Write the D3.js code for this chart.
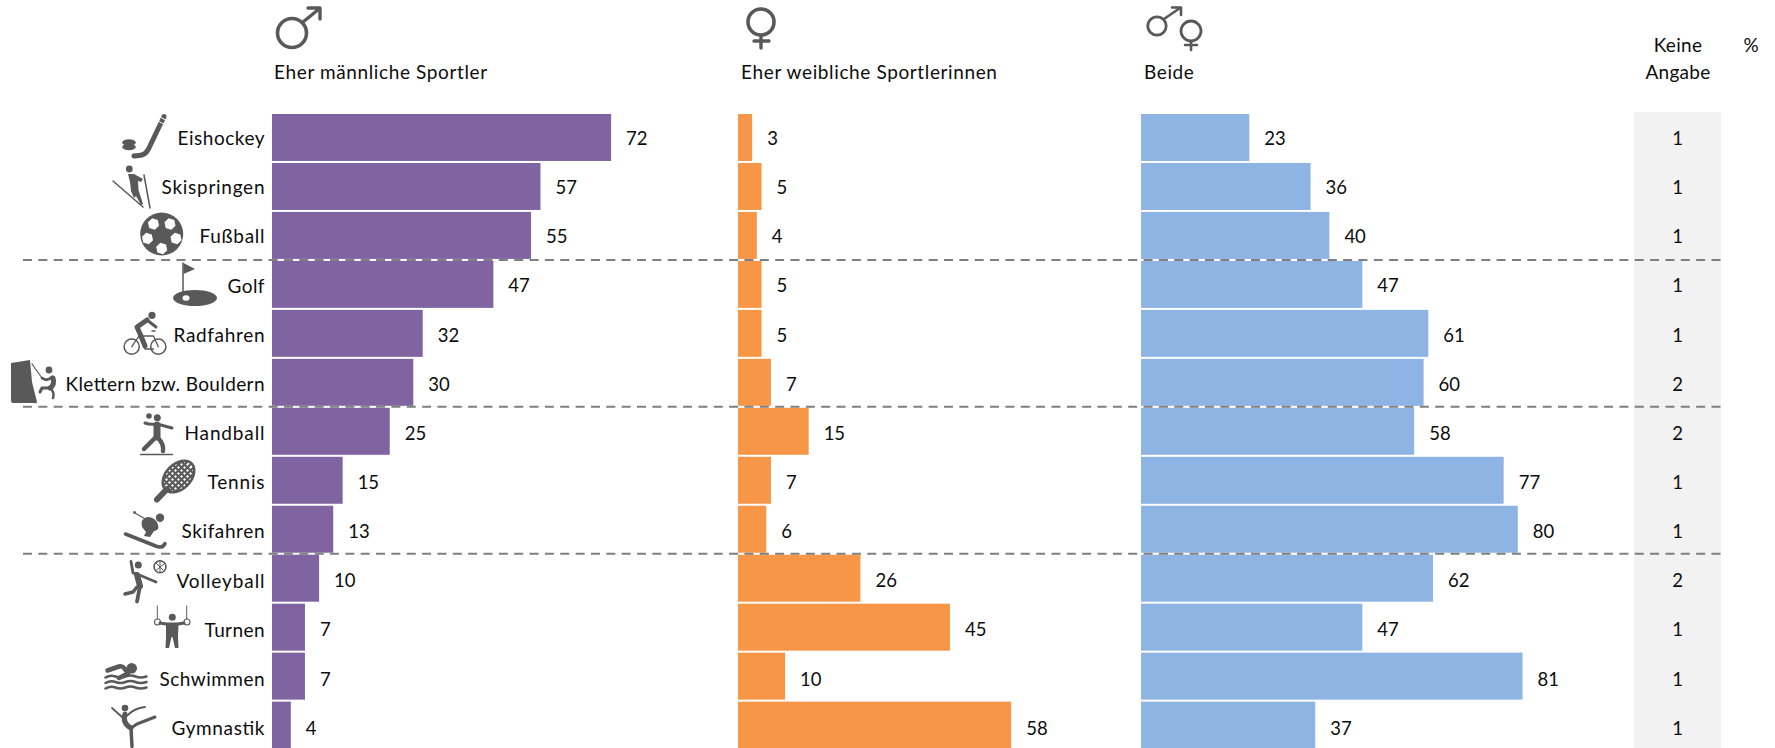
<!DOCTYPE html>
<html><head><meta charset="utf-8">
<script src="https://cdn.jsdelivr.net/npm/d3@7"></script>
<style>
html,body{margin:0;padding:0;background:#fff;overflow:hidden}
text{font-family:Lato,"Open Sans",sans-serif;fill:#0d0d0d}
</style></head><body>
<svg id="c" width="1775" height="748"></svg>
<script>
const categories=["Eishockey","Skispringen","Fußball","Golf","Radfahren","Klettern bzw. Bouldern","Handball","Tennis","Skifahren","Volleyball","Turnen","Schwimmen","Gymnastik"];
const male=[72,57,55,47,32,30,25,15,13,10,7,7,4];
const female=[3,5,4,5,5,7,15,7,6,26,45,10,58];
const both=[23,36,40,47,61,60,58,77,80,62,47,81,37];
const none=[1,1,1,1,1,2,2,1,1,2,1,1,1];
const separators=["Fußball","Klettern bzw. Bouldern","Skifahren"];
const headers=["Eher männliche Sportler","Eher weibliche Sportlerinnen","Beide"];

const svg=d3.select("#c");
const G="#595959", FS=19;
const labelFit=[87,103,65,37,91,199,80,57,83,88,60,105,93];
const y=d3.scaleBand().domain(categories).range([114,748.6]).paddingInner(2/49);
const yT=d3.scalePoint().domain(categories).range([138.5,138.5+12*49.15]);
const x=d3.scaleLinear().domain([0,100]).range([0,471]);
const panels=[{x0:272,vals:male,color:"#8064a2"},{x0:738,vals:female,color:"#f79646"},{x0:1141,vals:both,color:"#8eb4e3"}];

svg.append("rect").attr("x",1634).attr("y",112).attr("width",87).attr("height",636).attr("fill","#f2f2f2");

panels.forEach(p=>{
  const g=svg.append("g").attr("transform",`translate(${p.x0},0)`);
  g.selectAll("rect").data(p.vals).join("rect")
    .attr("x",0).attr("y",(d,i)=>y(categories[i])).attr("width",d=>x(d)).attr("height",y.bandwidth()).attr("fill",p.color);
  g.selectAll("text").data(p.vals).join("text")
    .attr("x",d=>x(d)+15).attr("y",(d,i)=>yT(categories[i])).attr("dy","0.35em")
    .attr("font-size",FS-0.5).text(d=>d);
});
svg.append("g").selectAll("text").data(none).join("text")
  .attr("x",1677.5).attr("y",(d,i)=>yT(categories[i])).attr("dy","0.35em").attr("text-anchor","middle")
  .attr("font-size",FS-0.5).text(d=>d);
svg.append("g").selectAll("text").data(categories).join("text")
  .attr("x",264.5).attr("y",d=>yT(d)).attr("dy","0.35em").attr("text-anchor","end")
  .attr("font-size",FS).attr("textLength",(d,i)=>labelFit[i]).attr("lengthAdjust","spacing").text(d=>d);

const hx=[274,741,1144];
headers.forEach((h,i)=>svg.append("text").attr("x",hx[i]).attr("y",79).attr("font-size",FS).attr("letter-spacing","0.62px").text(h));
[["Keine",1678,52],["Angabe",1678,79]].forEach(t=>svg.append("text").attr("x",t[1]).attr("y",t[2]).attr("text-anchor","middle").attr("font-size",FS).attr("letter-spacing","0.3px").text(t[0]));
svg.append("text").attr("x",1751).attr("y",52).attr("text-anchor","middle").attr("font-size",FS).text("%");

// separators
svg.append("g").selectAll("line").data(separators).join("line")
  .attr("x1",23).attr("x2",1721)
  .attr("y1",d=>y(d)+y.step()-1).attr("y2",d=>y(d)+y.step()-1)
  .attr("stroke","#7f7f7f").attr("stroke-width",2).attr("stroke-dasharray","9 6.35");

// icons
const ic=svg.append("g").attr("fill",G).attr("stroke","none");
const P=(d,o={})=>{const e=ic.append("path").attr("d",d);for(const k in o)e.attr(k,o[k]);return e;};
const C=(cx,cy,r,o={})=>{const e=ic.append("circle").attr("cx",cx).attr("cy",cy).attr("r",r);for(const k in o)e.attr(k,o[k]);return e;};
const E=(cx,cy,rx,ry,o={})=>{const e=ic.append("ellipse").attr("cx",cx).attr("cy",cy).attr("rx",rx).attr("ry",ry);for(const k in o)e.attr(k,o[k]);return e;};
const L=(d,w,o={})=>P(d,Object.assign({fill:"none",stroke:G,"stroke-width":w,"stroke-linecap":"round","stroke-linejoin":"round"},o));
// gender
const gs=(cx,cy,r,w)=>C(cx,cy,r,{fill:"none",stroke:G,"stroke-width":w});
gs(292,33,14.5,3.6); L("M303 22L319 9M308 8L320 8L320 19",3.4);
gs(761,22,13,3.6); L("M761 36V48M754 41H769",3.4);
gs(1157,26,9.2,2.8); L("M1164 19L1180 8M1172 7.5L1181 7.5L1181 15",2.6);
gs(1191,31,10,2.8); L("M1191 42V50M1185 45H1197",2.6);
// hockey
L("M164 116.5L148.5 149Q145 155.5 139 155.5L134 156",5);
L("M159 121.5L164.5 124.5M161 117.5L166.5 120.5",1,{stroke:"#fff"});
E(129,147,6.8,3.2); E(129,142.5,6.8,3.2);
// ski jump
C(129.3,169,3.4);
P("M128 174L134 174L143 179L141 182L138 181L138.500 190L143 204L141 205L136 196L134 198L131 191L130 182Z");
L("M113 181L143 207",1.5); L("M144 175L150 208",1.5);
// football
C(161.7,234,21.5);
const hex=(cx,cy,r,a0)=>"M"+d3.range(6).map(k=>{const a=a0+k*Math.PI/3;return [(cx+r*Math.cos(a)).toFixed(1),(cy+r*Math.sin(a)).toFixed(1)].join(" ");}).join("L")+"Z";
[[153.5,224],[170,224],[147.5,238.5],[176,238.5],[161.7,248.5]].forEach(c=>P(hex(c[0],c[1],5.8,0.3),{fill:"#fff"}));
// golf
L("M183 263V294",1.500);
P("M183.500 263L195 269L183.500 274Z");
E(195,298,22,8); E(186,298,3.500,2.800,{fill:"#fff"});
// cyclist
C(152,315.3,3.600);
C(131.7,346.7,7.6,{fill:"none",stroke:G,"stroke-width":1.500});
C(158.3,346.7,7.6,{fill:"none",stroke:G,"stroke-width":1.500});
L("M131.7 346.7L139 336H153.500L158.300 346.700M139 336L145 349H153.500",1.300);
L("M147 320L137 327L141 336L145 346",5);
L("M147 320L156 327",3);
L("M152 331L155 331",1.500);
// climber
P("M11 363L30 360L32 382L37 402Q37 404 34 403L13 403Q11 403 11 400Z");
L("M32 364L42 378",1.200);
C(49,370,3.400);
L("M42 378Q47 382 52 377",2.800);
L("M53 378Q55 385 50 388",5);
L("M50 388L42 388L40 392",3);
L("M50 388Q55 392 53 398",2.500);
// handball
C(149,416,2.800); C(157.3,417.7,3.500);
L("M145 423Q150 425 157 424L172 428",3);
L("M157 425L157 437",7);
L("M155 438L144 449",4.5);
L("M158 438Q164 444 163 451",4.5);
L("M140.500 454.500H172.500",1.300);
// tennis
svg.append("defs").append("clipPath").attr("id","rk").append("ellipse").attr("cx",178.5).attr("cy",476.5).attr("rx",19).attr("ry",13).attr("transform","rotate(-45 178.5 476.5)");
E(178.5,476.5,19,13,{transform:"rotate(-45 178.5 476.5)",fill:"#fff"});
(()=>{const hh=ic.append("g").attr("clip-path","url(#rk)").attr("stroke",G).attr("stroke-width",2.200).attr("fill","none");
 for(let i=-3;i<=3;i++){const t=6*i*Math.SQRT1_2*1.414;
  hh.append("line").attr("x1",178.5+t-25).attr("y1",476.5-25).attr("x2",178.5+t+25).attr("y2",476.5+25);
  hh.append("line").attr("x1",178.5+t+25).attr("y1",476.5-25).attr("x2",178.5+t-25).attr("y2",476.5+25);}
 })();
E(178.5,476.5,18.5,12.5,{transform:"rotate(-45 178.5 476.5)",fill:"none",stroke:G,"stroke-width":2.500});
L("M167 489L157 499.500",6);
// skiing
C(160,517.7,4.200);
P("M147 517Q156 517 158 525Q160 530 154 531L150 537L144 536L146 532L142 527Q140 519 147 517Z");
L("M135 513L147 520",1.300); C(134.500,512.500,1.400);
L("M125.500 534L157 546.500Q163 548.500 165 543.500",3.500);
// volleyball
C(138.3,565,3.500); C(160,566.7,6,{fill:"#fff",stroke:G,"stroke-width":1.600});
L("M156 563L163 570M156.500 570L164 564M160 561V572",1);
L("M131 561.500L133 573L137 574L156 582",2.800);
L("M137 575L140 586",6);
L("M140 586L137 601.500",3.800);
L("M137 587L133 592L125 594",3.500);
// rings
L("M157.300 606V619M186.700 606V619",1);
C(157.5,622,3,{fill:"#fff",stroke:G,"stroke-width":1.100});
C(187,622,3,{fill:"#fff",stroke:G,"stroke-width":1.100});
C(172.300,617.300,3.500);
L("M160 623L166 624H178L184 623",3);
P("M166 624H178.500L178 637L178.500 648H175L172.500 637H171.500L169 648H165.500L166 637Z");
// swimmer
C(131.7,668.3,5.300);
L("M107.500 670.500L119 666.500Q122 665.500 124 668L128 673.500L119 678",4.500);
L("M105.500 677.500Q110.500 674.500 115.500 676.500T125.500 676.500T135.500 676.500T146.500 676.500",2.500);
L("M105.500 683Q110.500 680 115.500 682T125.500 682T135.500 682T146.500 682",2.500);
L("M105.500 688.500Q110.500 685.500 115.500 687.500T125.500 687.500T135.500 687.500T146.500 687.500",2.500);
// gymnastik
C(125,708,3.300);
L("M112 708L122 717",1.800); L("M145 707Q134 708 127 716",1.800);
L("M125 714Q122 723 131 728",5);
L("M131 728L137 724L155 717",3);
L("M131 728L132 746.500",3.500);
</script></body></html>
